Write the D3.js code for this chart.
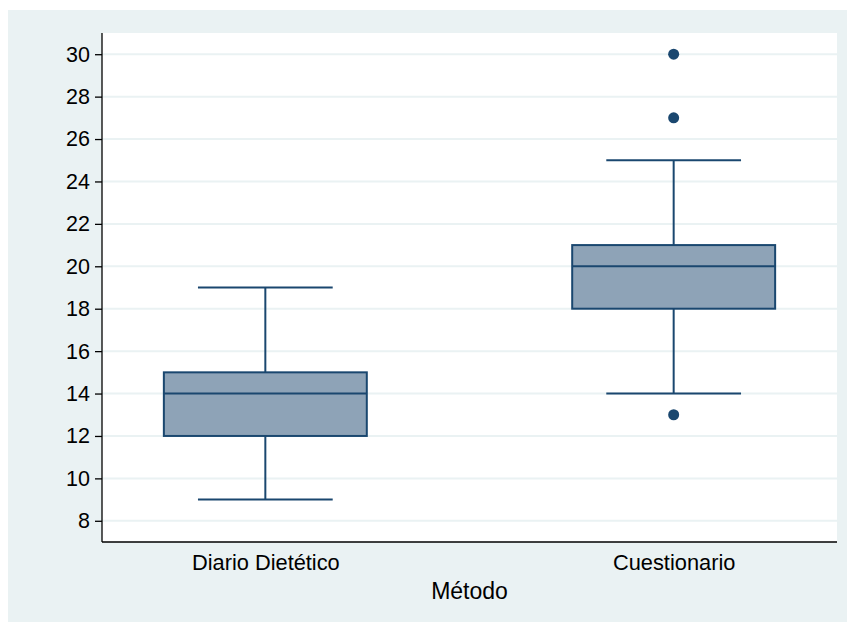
<!DOCTYPE html>
<html>
<head>
<meta charset="utf-8">
<script src="https://cdn.jsdelivr.net/npm/d3@7"></script>
<style>
  html, body { margin: 0; padding: 0; background: #ffffff; }
  svg { display: block; }
  text { font-family: "Liberation Sans", Arial, sans-serif; fill: #000; }
</style>
</head>
<body>
<svg id="chart" width="847" height="622"></svg>
<script>
// ---- data ----
const categories = ["Diario Dietético", "Cuestionario"];
const whiskerLow  = [9, 14];
const q1          = [12, 18];
const medians     = [14, 20];
const q3          = [15, 21];
const whiskerHigh = [19, 25];
const outliers    = [[], [30, 27, 13]];
const yTicks = [8, 10, 12, 14, 16, 18, 20, 22, 24, 26, 28, 30];
const xTitle = "Método";

// ---- layout ----
const W = 847, H = 622;
const plot = { left: 102, right: 837, top: 33, bottom: 542 };
const navy = "#1a476f";
const boxFill = "#8ea3b7";
const bg = "#eaf2f3";
const fontFam = "Liberation Sans, Arial, sans-serif";

const svg = d3.select("#chart");

svg.append("rect").attr("x", 8).attr("y", 10).attr("width", W - 8).attr("height", H - 10).attr("fill", bg);
svg.append("rect").attr("x", plot.left).attr("y", plot.top)
  .attr("width", plot.right - plot.left).attr("height", plot.bottom - plot.top).attr("fill", "#ffffff");

const y = d3.scaleLinear().domain([7, 31]).range([plot.bottom, plot.top]);
const x = d3.scalePoint().domain(categories).range([plot.left, plot.right]).padding(0.4);
const step = x.step();
const boxW = step * 0.497;
const capW = step * 0.33;

// gridlines
svg.append("g").selectAll("line").data(yTicks).join("line")
  .attr("x1", plot.left).attr("x2", plot.right)
  .attr("y1", d => y(d)).attr("y2", d => y(d))
  .attr("stroke", "#eaf2f3").attr("stroke-width", 2);

// y axis
const yAxis = d3.axisLeft(y).tickValues(yTicks).tickSize(7).tickPadding(5).tickSizeOuter(0);
const gy = svg.append("g").attr("transform", `translate(${plot.left},0)`).call(yAxis);
gy.select(".domain").attr("stroke", "#000").attr("stroke-width", 1.3)
  .attr("d", `M0,${plot.top}V${plot.bottom}`);
gy.selectAll(".tick line").attr("stroke", "#000").attr("stroke-width", 1.3);
gy.selectAll(".tick text").attr("font-size", 21.5).attr("font-family", fontFam).attr("fill", "#000");

// x axis
const xAxis = d3.axisBottom(x).tickSize(0).tickPadding(13).tickSizeOuter(0);
const gx = svg.append("g").attr("transform", `translate(0,${plot.bottom})`).call(xAxis);
gx.select(".domain").attr("stroke", "#000").attr("stroke-width", 1.3)
  .attr("d", `M${plot.left},0H${plot.right}`);
gx.selectAll(".tick text").attr("font-size", 21.8).attr("font-family", fontFam).attr("fill", "#000");

svg.append("text").attr("x", (plot.left + plot.right) / 2).attr("y", 599)
  .attr("text-anchor", "middle").attr("font-size", 23).attr("font-family", fontFam).text(xTitle);

// boxes
const g = svg.append("g");
categories.forEach((c, i) => {
  const cx = x(c);
  // whiskers
  g.append("line").attr("x1", cx).attr("x2", cx).attr("y1", y(q3[i])).attr("y2", y(whiskerHigh[i]))
    .attr("stroke", navy).attr("stroke-width", 2);
  g.append("line").attr("x1", cx).attr("x2", cx).attr("y1", y(q1[i])).attr("y2", y(whiskerLow[i]))
    .attr("stroke", navy).attr("stroke-width", 2);
  g.append("line").attr("x1", cx - capW / 2).attr("x2", cx + capW / 2).attr("y1", y(whiskerHigh[i])).attr("y2", y(whiskerHigh[i]))
    .attr("stroke", navy).attr("stroke-width", 2);
  g.append("line").attr("x1", cx - capW / 2).attr("x2", cx + capW / 2).attr("y1", y(whiskerLow[i])).attr("y2", y(whiskerLow[i]))
    .attr("stroke", navy).attr("stroke-width", 2);
  // box
  g.append("rect").attr("x", cx - boxW / 2).attr("y", y(q3[i]))
    .attr("width", boxW).attr("height", y(q1[i]) - y(q3[i]))
    .attr("fill", boxFill).attr("stroke", navy).attr("stroke-width", 2);
  g.append("line").attr("x1", cx - boxW / 2).attr("x2", cx + boxW / 2).attr("y1", y(medians[i])).attr("y2", y(medians[i]))
    .attr("stroke", navy).attr("stroke-width", 2);
  // outliers
  g.selectAll(null).data(outliers[i]).join("circle")
    .attr("cx", cx).attr("cy", d => y(d)).attr("r", 5.5).attr("fill", navy);
});
</script>
</body>
</html>
